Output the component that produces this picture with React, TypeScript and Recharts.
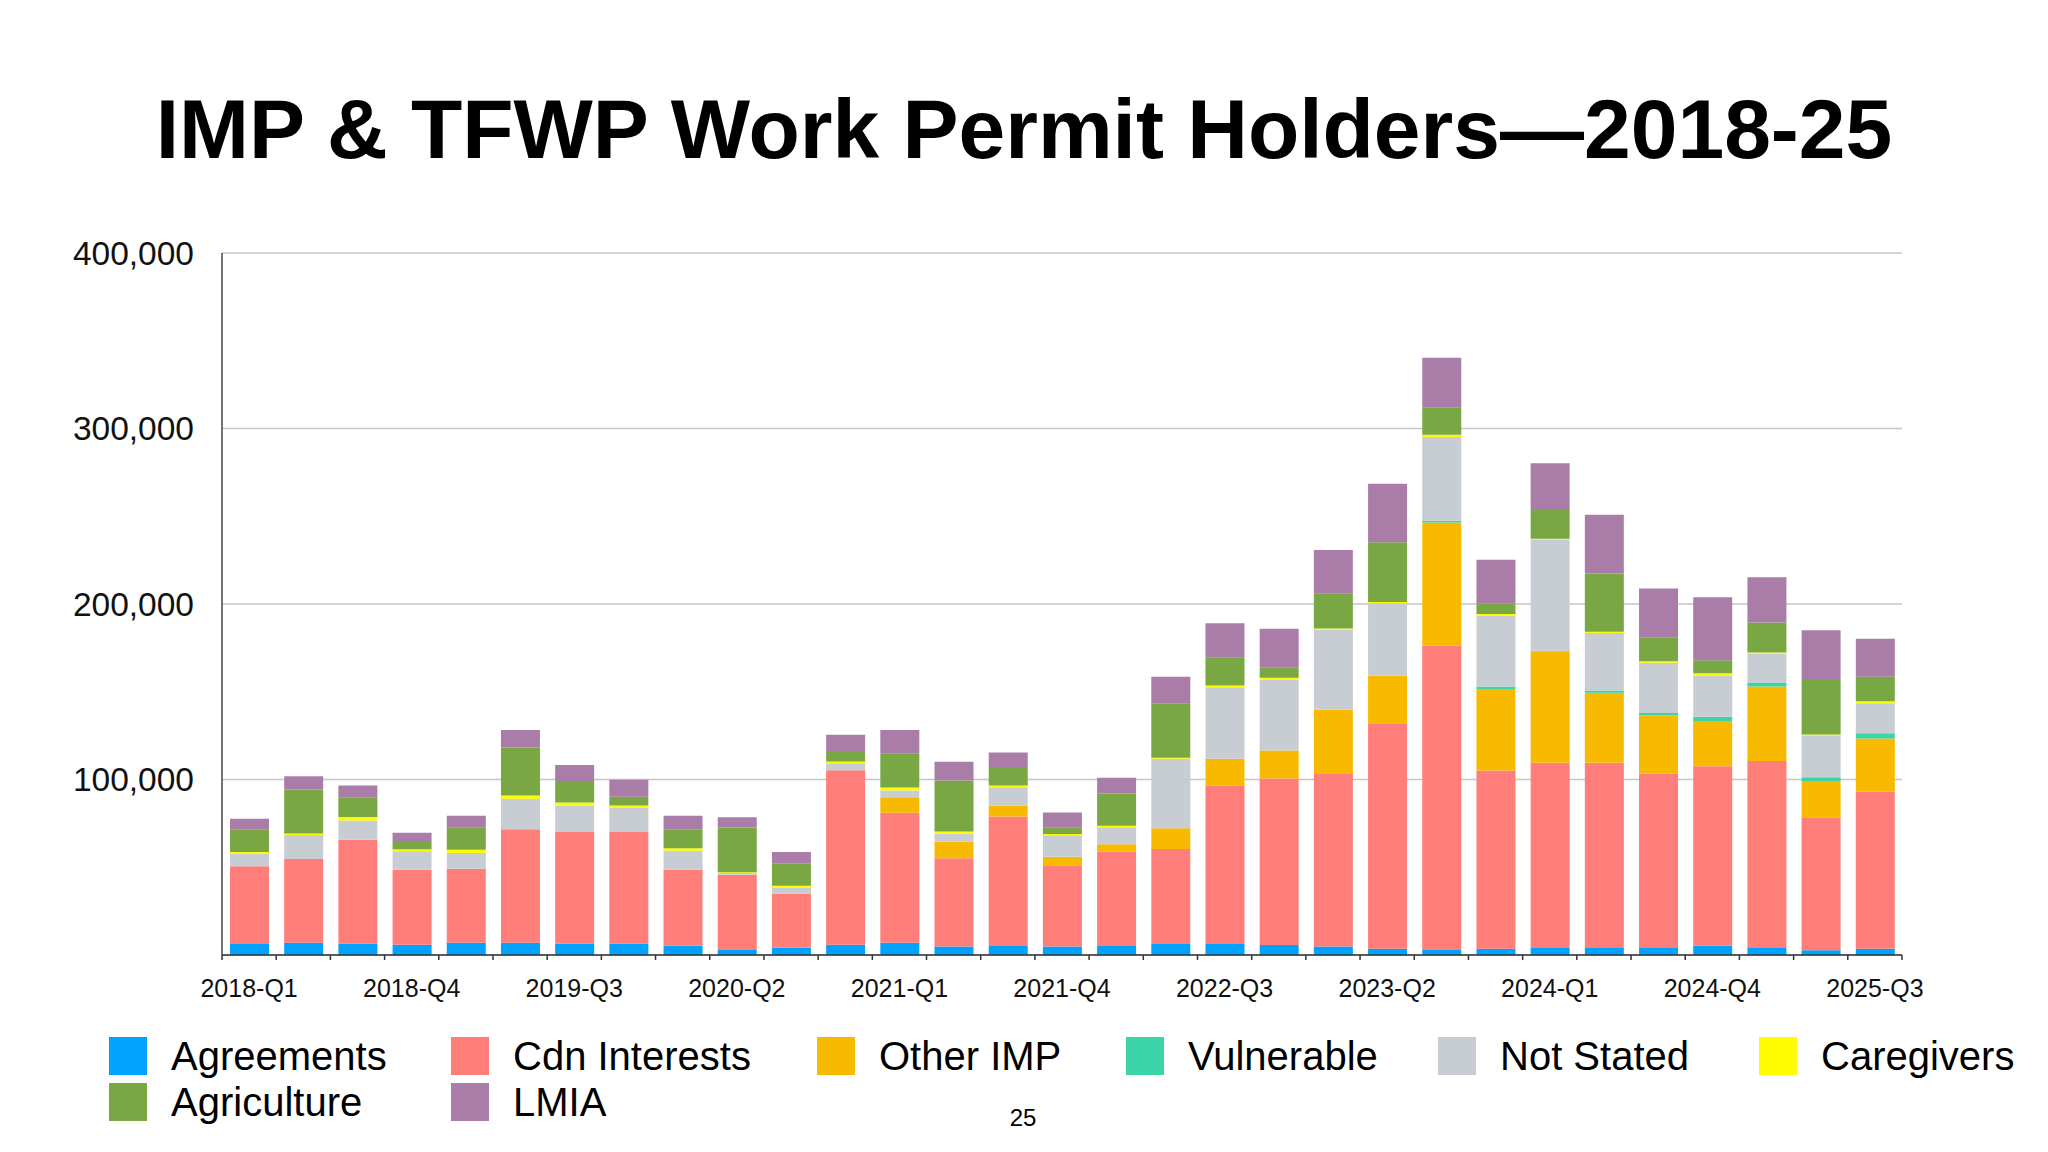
import { Bar, BarChart, CartesianGrid, XAxis, YAxis } from "recharts";

// quarters 2018-Q1 .. 2025-Q3
const quarters = [
  "2018-Q1", "2018-Q2", "2018-Q3", "2018-Q4",
  "2019-Q1", "2019-Q2", "2019-Q3", "2019-Q4",
  "2020-Q1", "2020-Q2", "2020-Q3", "2020-Q4",
  "2021-Q1", "2021-Q2", "2021-Q3", "2021-Q4",
  "2022-Q1", "2022-Q2", "2022-Q3", "2022-Q4",
  "2023-Q1", "2023-Q2", "2023-Q3", "2023-Q4",
  "2024-Q1", "2024-Q2", "2024-Q3", "2024-Q4",
  "2025-Q1", "2025-Q2", "2025-Q3",
];

// work permit holders per stream
const agreements = [
  6300, 7000, 6500, 5900, 7000, 7000, 6500, 6500, 5300, 2900, 4200, 5900, 7000, 4800, 5100, 4800,
  5100, 6300, 6300, 5700, 4800, 3600, 2900, 3600, 4000, 4000, 4000, 5300, 4000, 2700, 3600,
];
const cdnInterests = [
  44200, 47700, 59200, 42700, 42100, 64600, 63600, 63600, 43300, 42800, 30700, 99400, 74000, 50300, 73800, 46300,
  53800, 54100, 90300, 94900, 98800, 128500, 173300, 101500, 105500, 105500, 99300, 102300, 106500, 75800, 89400,
];
const otherImp = [
  0, 0, 0, 0, 0, 0, 0, 0, 0, 0, 0, 0, 8900, 9500, 6300, 4900,
  4200, 11800, 15200, 15900, 36100, 27000, 70200, 46400, 63500, 40000, 33300, 25800, 42500, 20600, 30400,
];
const vulnerable = [
  0, 0, 0, 0, 0, 0, 0, 0, 0, 0, 0, 0, 0, 0, 0, 0,
  0, 0, 0, 0, 0, 0, 1000, 1500, 400, 1200, 1300, 2400, 2300, 2200, 2900,
];
const notStated = [
  7200, 13700, 10900, 10500, 9000, 17400, 15100, 13700, 10800, 1000, 3600, 3900, 3800, 4700, 10400, 12200,
  9700, 39600, 40800, 40300, 45600, 41300, 47800, 40500, 63100, 32800, 28600, 23500, 16300, 23500, 17100,
];
const caregivers = [
  1000, 900, 2100, 1100, 1900, 1900, 1700, 1400, 1400, 500, 900, 1100, 1700, 1000, 1000, 800,
  900, 600, 1000, 1200, 800, 800, 1200, 800, 700, 700, 900, 1300, 800, 900, 1200,
];
const agriculture = [
  12700, 25000, 11200, 4200, 12800, 27400, 12200, 4900, 10500, 25400, 12600, 5300, 19500, 29100, 10500, 3800,
  18300, 31100, 16000, 5900, 20000, 34000, 15700, 5900, 16400, 33200, 13400, 7400, 17100, 31500, 13900,
];
const lmia = [
  6300, 7600, 6700, 5300, 6600, 9900, 9100, 9700, 8100, 5900, 6700, 9900, 13300, 10700, 8300, 8400,
  9000, 15000, 19400, 22000, 24700, 33300, 28200, 25000, 26600, 33500, 28000, 35800, 25800, 27800, 21700,
];

const yTicks = [100000, 200000, 300000, 400000];

const SERIES = [
  { key: "agreements", name: "Agreements", color: "#00A2FF", values: agreements },
  { key: "cdnInterests", name: "Cdn Interests", color: "#FF7E79", values: cdnInterests },
  { key: "otherImp", name: "Other IMP", color: "#F8BA00", values: otherImp },
  { key: "vulnerable", name: "Vulnerable", color: "#3BD3A8", values: vulnerable },
  { key: "notStated", name: "Not Stated", color: "#C8CDD4", values: notStated },
  { key: "caregivers", name: "Caregivers", color: "#FFFB00", values: caregivers },
  { key: "agriculture", name: "Agriculture", color: "#78A744", values: agriculture },
  { key: "lmia", name: "LMIA", color: "#A97DA8", values: lmia },
];

const data = quarters.map((q, i) => {
  const row: Record<string, string | number> = { q };
  SERIES.forEach((s) => (row[s.key] = s.values[i]));
  return row;
});

const FONT = '"Liberation Sans", Arial, Helvetica, sans-serif';
const PLOT_LEFT = 222;
const PLOT_RIGHT = 1902;
const BAND = (PLOT_RIGHT - PLOT_LEFT) / quarters.length;

// ticks sit on category boundaries, labels on every 3rd quarter
function QuarterTick(props: any) {
  const { x, y, payload } = props;
  const i = payload?.index ?? props.index ?? 0;
  const last = i === quarters.length - 1;
  return (
    <g>
      <line x1={x - BAND / 2} x2={x - BAND / 2} y1={y} y2={y + 5} stroke="#333" strokeWidth={1.5} />
      {last && <line x1={x + BAND / 2} x2={x + BAND / 2} y1={y} y2={y + 5} stroke="#333" strokeWidth={1.5} />}
      {i % 3 === 0 && (
        <text x={x} y={y + 33} textAnchor="middle" dominantBaseline="central" fontSize={25} fill="#111" fontFamily={FONT}>
          {payload.value}
        </text>
      )}
    </g>
  );
}

const legendRows = [
  [
    { s: 0, left: 109 },
    { s: 1, left: 451 },
    { s: 2, left: 817 },
    { s: 3, left: 1126 },
    { s: 4, left: 1438 },
    { s: 5, left: 1759 },
  ],
  [
    { s: 6, left: 109 },
    { s: 7, left: 451 },
  ],
];
const legendTops = [1037, 1083];

export default function App() {
  return (
    <div
      style={{
        position: "fixed",
        left: 0,
        top: 0,
        width: 2048,
        height: 1152,
        background: "#fff",
        fontFamily: FONT,
        color: "#000",
        overflow: "hidden",
      }}
    >
      <div
        style={{
          position: "absolute",
          left: 0,
          top: 87,
          width: 2048,
          textAlign: "center",
          fontSize: 84,
          lineHeight: "84px",
          fontWeight: 700,
          whiteSpace: "nowrap",
        }}
      >
        IMP &amp; TFWP Work Permit Holders—2018-25
      </div>

      <div style={{ position: "absolute", left: 0, top: 0 }}>
        <BarChart
          width={2048}
          height={1152}
          data={data}
          margin={{ top: 253, right: 2048 - PLOT_RIGHT, left: PLOT_LEFT - 150, bottom: 1152 - 955 - 60 }}
          barSize={39}
        >
          <CartesianGrid vertical={false} stroke="#c6c6c6" strokeWidth={1.5} />
          <XAxis
            dataKey="q"
            interval={0}
            height={60}
            tickSize={0}
            tickMargin={0}
            tickLine={false}
            axisLine={{ stroke: "#333", strokeWidth: 1.5 }}
            tick={<QuarterTick />}
          />
          <YAxis
            width={150}
            domain={[0, 400000]}
            ticks={yTicks}
            tickSize={0}
            tickMargin={28}
            tickLine={false}
            axisLine={{ stroke: "#444", strokeWidth: 1.5 }}
            tick={{ fontSize: 33.5, fill: "#111", fontFamily: FONT }}
            tickFormatter={(v: number) => v.toLocaleString("en-US")}
          />
          {SERIES.map((s) => (
            <Bar key={s.key} dataKey={s.key} name={s.name} stackId="a" fill={s.color} isAnimationActive={false} />
          ))}
        </BarChart>
      </div>

      {legendRows.map((row, r) =>
        row.map(({ s, left }) => (
          <div
            key={SERIES[s].key}
            style={{ position: "absolute", left, top: legendTops[r], height: 38, display: "flex", alignItems: "center" }}
          >
            <div style={{ width: 38, height: 38, background: SERIES[s].color }} />
            <span style={{ marginLeft: 24, fontSize: 40, lineHeight: "38px", whiteSpace: "nowrap" }}>{SERIES[s].name}</span>
          </div>
        ))
      )}

      <div style={{ position: "absolute", left: 0, width: 2046, top: 1104, textAlign: "center", fontSize: 24, lineHeight: "28px" }}>
        25
      </div>
    </div>
  );
}
